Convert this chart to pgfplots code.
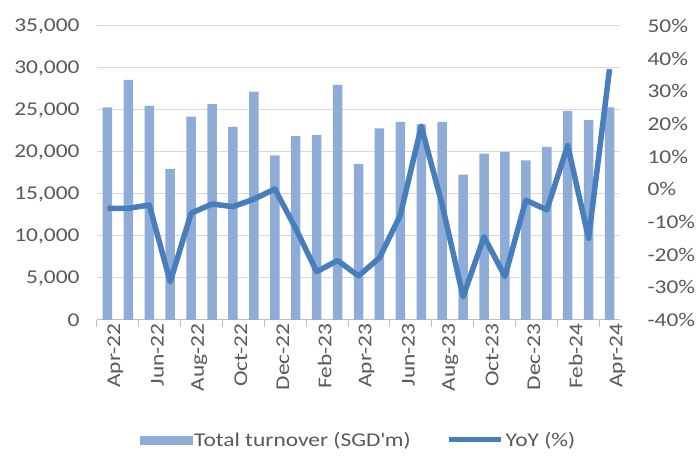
\documentclass[border=0pt]{standalone}
\usepackage{fontspec}
\setmainfont[FakeStretch=1.2]{Carlito}
\usepackage{pgfplots}
\pgfplotsset{compat=1.18}
\usepackage{pgfplotstable}
\definecolor{barblue}{RGB}{143,172,216}
\definecolor{lineblue}{RGB}{72,126,187}
\definecolor{gridgray}{RGB}{217,217,217}
\definecolor{tickgray}{RGB}{191,191,191}
\definecolor{textgray}{RGB}{89,89,89}
\pgfplotstableread{
x turnover
0 25300
1 28600
2 25500
3 18000
4 24200
5 25700
6 23000
7 27200
8 19600
9 21900
10 22000
11 28000
12 18600
13 22800
14 23600
15 23300
16 23600
17 17300
18 19800
19 20000
20 19000
21 20600
22 24900
23 23800
24 25300
}\turnover
\pgfplotstableread{
x yoy
0 -5.8
1 -5.8
2 -4.8
3 -28.3
4 -7.3
5 -4.5
6 -5.3
7 -3.0
8 0.1
9 -12.0
10 -25.2
11 -21.8
12 -26.5
13 -21.0
14 -7.9
15 19.3
16 -4.7
17 -32.9
18 -14.5
19 -26.7
20 -3.3
21 -6.3
22 13.4
23 -15.0
24 36.8
}\yoy
\newcommand{\lblfont}{\fontsize{19.5}{22}\selectfont}
\begin{document}
\begin{tikzpicture}
\path[use as bounding box] (-97pt,-137pt) rectangle (600pt,320pt);
\begin{axis}[
  at={(0pt,0pt)}, anchor=south west,
  scale only axis, width=523pt, height=294pt,
  xmin=-0.5, xmax=24.5, ymin=0, ymax=35000,
  scaled y ticks=false,
  axis x line*=bottom, axis y line*=left,
  y axis line style={draw=none},
  x axis line style={draw=tickgray, line width=1pt, -},
  ytick={0,5000,10000,15000,20000,25000,30000,35000},
  yticklabels={0,{5,000},{10,000},{15,000},{20,000},{25,000},{30,000},{35,000}},
  ymajorgrids, grid style={draw=gridgray, line width=1pt},
  ytick style={draw=none},
  xtick={0,2,...,24},
  xticklabels={Apr-22,Jun-22,Aug-22,Oct-22,Dec-22,Feb-23,Apr-23,Jun-23,Aug-23,Oct-23,Dec-23,Feb-24,Apr-24},
  minor xtick={-0.5,1.5,...,23.5},
  major tick length=0pt, minor tick length=7pt, tick align=outside,
  xtick style={draw=tickgray, line width=1pt},
  every tick label/.append style={font=\lblfont, text=textgray},
  xticklabel style={rotate=90, anchor=east, yshift=-8pt},
  yticklabel style={xshift=-14pt},
]
\addplot[ybar, bar width=9.5pt, fill=barblue, draw=none] table[x=x, y=turnover] {\turnover};
\end{axis}
\begin{axis}[
  at={(0pt,0pt)}, anchor=south west,
  scale only axis, width=523pt, height=294pt,
  xmin=-0.5, xmax=24.5, ymin=-40, ymax=50,
  axis x line=none, axis y line*=right,
  y axis line style={draw=none},
  ytick={-40,-30,...,50},
  yticklabels={-40\%,-30\%,-20\%,-10\%,0\%,10\%,20\%,30\%,40\%,50\%},
  ytick style={draw=none}, major tick length=0pt,
  every tick label/.append style={font=\lblfont, text=textgray},
  yticklabel style={anchor=west, xshift=24pt},
  legend columns=2,
  legend style={draw=none, fill=none, at={(rel axis cs:0.5,0)}, anchor=center, yshift=-120pt,
    font=\lblfont, text=textgray,
    /tikz/every even column/.append style={column sep=34pt}},
]
\addlegendimage{legend image code/.code={\fill[barblue] (0pt,-4pt) rectangle (52pt,4pt);}}
\addlegendentry{Total turnover (SGD\textquotesingle m)}
\addplot[lineblue, line width=5.5pt, line join=round,
  legend image code/.code={\draw[lineblue, line width=5pt] (0pt,0pt) -- (52pt,0pt);}]
  table[x=x, y=yoy] {\yoy};
\addlegendentry{YoY (\%)}
\end{axis}
\end{tikzpicture}
\end{document}
